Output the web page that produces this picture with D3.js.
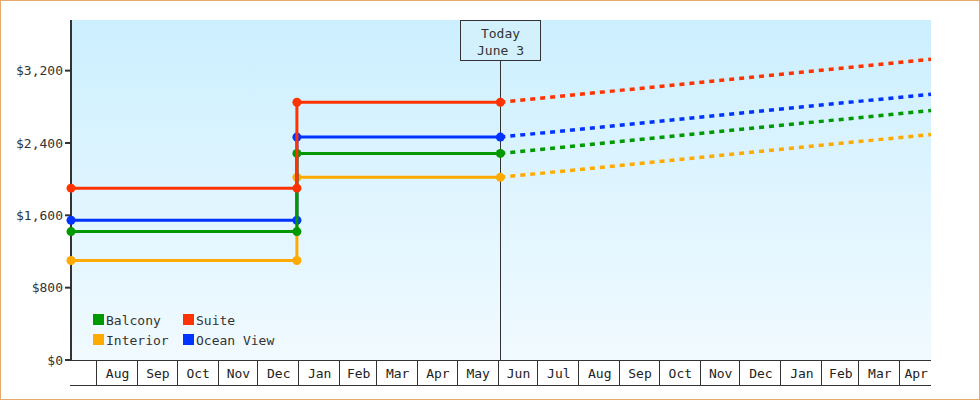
<!DOCTYPE html>
<html>
<head>
<meta charset="utf-8">
<script src="https://cdn.jsdelivr.net/npm/d3@7"></script>
<style>
  html, body { margin: 0; padding: 0; background: #fff; }
  svg { display: block; font-family: "DejaVu Sans Mono", monospace; }
</style>
</head>
<body>
<svg id="chart" width="980" height="400"></svg>
<script>
const parseDate = d3.timeParse("%Y-%m-%d")

// time span of the chart
const rangeStart = "2021-07-13"
const stepDate = "2021-12-31"
const todayDate = "2022-06-03"
const rangeEnd = "2023-04-25"

const seriesNames = ["Interior", "Ocean View", "Balcony", "Suite"]
const seriesColors = ["#ffaa00", "#0033ff", "#009900", "#ff3300"]
// price before the step, after the step, and projected at the end
const priceBefore = [1100, 1545, 1420, 1900]
const priceAfter = [2020, 2465, 2285, 2850]
const priceProjected = [2495, 2940, 2760, 3325]

const legendOrder = ["Balcony", "Suite", "Interior", "Ocean View"]
const yTicks = [0, 800, 1600, 2400, 3200]
const yMax = 3760

const margin = {top: 20, right: 49, bottom: 40, left: 71},
      width = 980, height = 400

const svg = d3.select("#chart")

const x = d3.scaleTime()
  .domain([parseDate(rangeStart), parseDate(rangeEnd)])
  .range([margin.left, width - margin.right])

const y = d3.scaleLinear()
  .domain([0, yMax])
  .range([height - margin.bottom, margin.top])

// outer frame
svg.append("rect")
  .attr("x", 0.5).attr("y", 0.5)
  .attr("width", width - 1).attr("height", height - 1)
  .attr("fill", "#fff")
  .attr("stroke", "#e8aa6a")

const defs = svg.append("defs")
const grad = defs.append("linearGradient")
  .attr("id", "bg").attr("x1", 0).attr("y1", 0).attr("x2", 0).attr("y2", 1)
grad.append("stop").attr("offset", "0%").attr("stop-color", "#ccefff")
grad.append("stop").attr("offset", "100%").attr("stop-color", "#f1faff")

svg.append("rect")
  .attr("x", margin.left).attr("y", margin.top)
  .attr("width", x.range()[1] - margin.left)
  .attr("height", y(0) - margin.top)
  .attr("fill", "url(#bg)")

// bottom month band
const band = svg.append("g")
const x0 = x.range()[0], x1 = x.range()[1]
band.append("line")
  .attr("x1", x0 - 1).attr("x2", x1).attr("y1", y(0) + 0.5).attr("y2", y(0) + 0.5)
  .attr("stroke", "#333")
band.append("line")
  .attr("x1", x0 - 1).attr("x2", x1).attr("y1", y(0) + 25.5).attr("y2", y(0) + 25.5)
  .attr("stroke", "#333")

const monthStarts = d3.timeMonth.range(d3.timeMonth.ceil(x.domain()[0]), x.domain()[1])
monthStarts.forEach(m => {
  const px = Math.round(x(m)) + 0.5
  band.append("line")
    .attr("x1", px).attr("x2", px).attr("y1", y(0)).attr("y2", y(0) + 25)
    .attr("stroke", "#333")
})
const edges = [x.domain()[0], ...monthStarts, x.domain()[1]]
for (let i = 0; i < edges.length - 1; i++) {
  const a = x(edges[i]), b = x(edges[i + 1])
  if (b - a < 30) continue
  band.append("text")
    .attr("x", (a + b) / 2 + 1)
    .attr("y", y(0) + 13)
    .attr("dy", "0.35em")
    .attr("text-anchor", "middle")
    .attr("font-size", 13)
    .attr("fill", "#222")
    .text(d3.timeFormat("%b")(d3.timeDay.offset(edges[i], 1)))
}

// y axis
const yAxis = svg.append("g")
yAxis.append("line")
  .attr("x1", x0).attr("x2", x0).attr("y1", margin.top).attr("y2", y(0) + 1)
  .attr("stroke", "#333").attr("stroke-width", 2)
yTicks.forEach(t => {
  yAxis.append("line")
    .attr("x1", x0 - 6).attr("x2", x0).attr("y1", y(t)).attr("y2", y(t))
    .attr("stroke", "#333").attr("stroke-width", 2)
  yAxis.append("text")
    .attr("x", x0 - 8).attr("y", y(t))
    .attr("dy", "0.35em")
    .attr("text-anchor", "end")
    .attr("font-size", 13)
    .attr("fill", "#333")
    .text(d3.format("$,")(t))
})

// today marker
const tx = Math.round(x(parseDate(todayDate))) + 0.5
svg.append("line")
  .attr("x1", tx).attr("x2", tx).attr("y1", 60).attr("y2", y(0))
  .attr("stroke", "#333")
svg.append("rect")
  .attr("x", tx - 40).attr("y", 20.5).attr("width", 80).attr("height", 40)
  .attr("fill", "#d2f1fd").attr("stroke", "#333")
svg.append("text")
  .attr("x", tx).attr("y", 33).attr("dy", "0.35em")
  .attr("text-anchor", "middle").attr("font-size", 13).attr("fill", "#333")
  .text("Today")
svg.append("text")
  .attr("x", tx).attr("y", 50).attr("dy", "0.35em")
  .attr("text-anchor", "middle").attr("font-size", 13).attr("fill", "#333")
  .text("June 3")

// series
const line = d3.line().x(d => x(d[0])).y(d => y(d[1]))
const lines = svg.append("g")

seriesNames.forEach((name, i) => {
  const pts = [
    [parseDate(rangeStart), priceBefore[i]],
    [parseDate(stepDate), priceBefore[i]],
    [parseDate(stepDate), priceAfter[i]],
    [parseDate(todayDate), priceAfter[i]]
  ]
  const proj = [
    [parseDate(todayDate), priceAfter[i]],
    [parseDate(rangeEnd), priceProjected[i]]
  ]
  lines.append("path")
    .datum(proj)
    .attr("fill", "none")
    .attr("stroke", seriesColors[i])
    .attr("stroke-width", 3.5)
    .attr("stroke-dasharray", "5,5")
    .attr("d", line)
  lines.append("path")
    .datum(pts)
    .attr("fill", "none")
    .attr("stroke", seriesColors[i])
    .attr("stroke-width", 3)
    .attr("d", line)
  lines.selectAll(null)
    .data(pts)
    .join("circle")
    .attr("cx", d => x(d[0]))
    .attr("cy", d => y(d[1]))
    .attr("r", 4.5)
    .attr("fill", seriesColors[i])
})

// legend
const legend = svg.append("g")
legendOrder.forEach((name, k) => {
  const col = k % 2, row = Math.floor(k / 2)
  const lx = 93 + col * 90, ly = 314 + row * 20
  const color = seriesColors[seriesNames.indexOf(name)]
  legend.append("rect")
    .attr("x", lx).attr("y", ly).attr("width", 11).attr("height", 11)
    .attr("fill", color)
  legend.append("text")
    .attr("x", lx + 13).attr("y", ly + 6).attr("dy", "0.35em")
    .attr("font-size", 13).attr("fill", "#333")
    .text(name)
})
</script>
</body>
</html>
